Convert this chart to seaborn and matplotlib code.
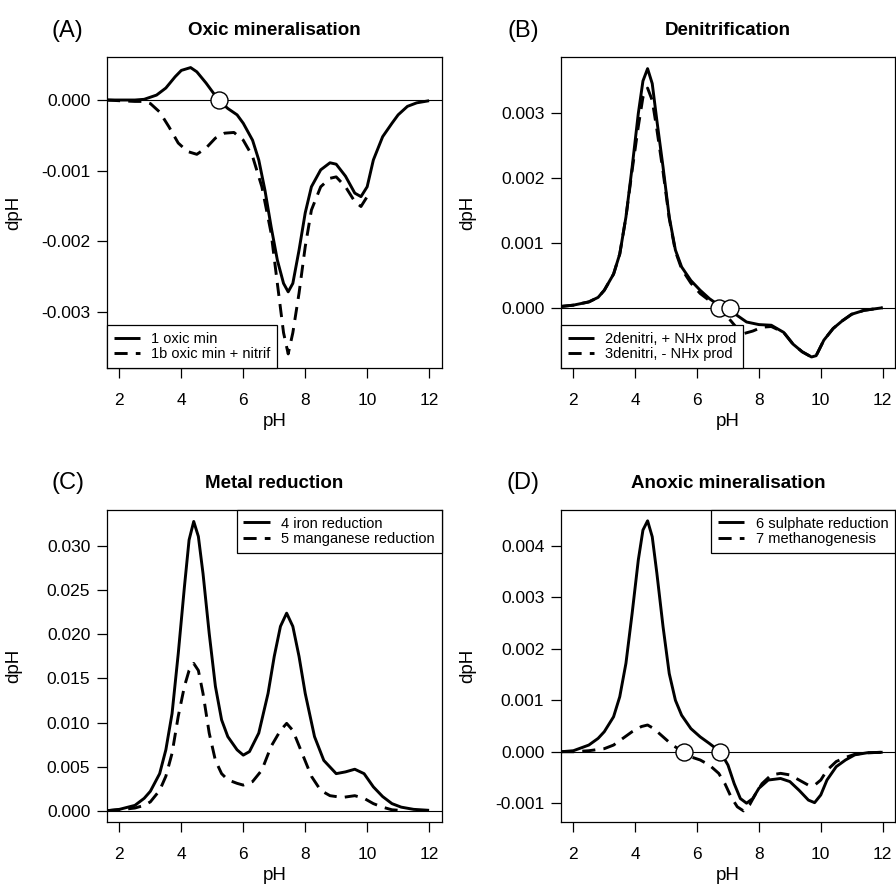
import numpy as np
import pandas as pd
import matplotlib
matplotlib.use("Agg")
import matplotlib.pyplot as plt
import seaborn as sns

# ---------------- data ----------------
# (A) Oxic mineralisation
phA1 = [1.6, 2.0, 2.5, 2.8, 3.2, 3.5, 3.8, 4.0, 4.3, 4.5, 4.8, 5.0, 5.2, 5.5, 5.8, 6.0, 6.3, 6.5, 6.7,
        6.9, 7.1, 7.3, 7.45, 7.6, 7.8, 8.0, 8.2, 8.5, 8.8, 9.0, 9.3, 9.6, 9.8, 10.0, 10.2, 10.5, 10.8,
        11.0, 11.3, 11.6, 12.0]
dA1 = [0.0, 0.0, 0.0, 0.00001, 0.00007, 0.00017, 0.00033, 0.00042, 0.00046, 0.0004, 0.00024, 0.00012,
       0.0, -0.00012, -0.00021, -0.00033, -0.00057, -0.00085, -0.00128, -0.0018, -0.00227, -0.0026,
       -0.00272, -0.0026, -0.00213, -0.0016, -0.00123, -0.00099, -0.00089, -0.00091, -0.00108, -0.00132,
       -0.00137, -0.00123, -0.00085, -0.00052, -0.00033, -0.00021, -0.00009, -0.00004, -0.00001]
phA1b = [1.6, 2.0, 2.5, 2.8, 3.0, 3.3, 3.6, 3.9, 4.2, 4.5, 4.8, 5.1, 5.4, 5.7, 6.0, 6.3, 6.6, 6.9, 7.1,
         7.3, 7.45, 7.6, 7.8, 8.0, 8.2, 8.5, 8.8, 9.0, 9.3, 9.6, 9.8, 10.0]
dA1b = [0.0, -0.00001, -0.00002, -0.00002, -0.00005, -0.00017, -0.00038, -0.00061, -0.00073, -0.00077,
        -0.00068, -0.00054, -0.00047, -0.00046, -0.00057, -0.0008, -0.00123, -0.00189, -0.0026, -0.0033,
        -0.0036, -0.0033, -0.00274, -0.00208, -0.00156, -0.00123, -0.00111, -0.00109, -0.00123, -0.00144,
        -0.00151, -0.00137]
crossA = [5.2]

# (B) Denitrification
phB2 = [1.6, 2.0, 2.5, 2.8, 3.0, 3.3, 3.5, 3.7, 3.9, 4.1, 4.25, 4.4, 4.55, 4.7, 4.9, 5.1, 5.3, 5.5, 5.8,
        6.1, 6.4, 6.7, 7.0, 7.3, 7.6, 8.0, 8.4, 8.8, 9.1, 9.4, 9.7, 9.85, 10.1, 10.4, 10.7, 11.0, 11.4, 12.0]
dB2 = [0.00002, 0.00004, 0.00009, 0.00016, 0.00027, 0.00052, 0.00083, 0.0014, 0.00217, 0.003, 0.0035,
       0.00369, 0.00346, 0.00289, 0.00217, 0.0014, 0.00089, 0.00063, 0.00042, 0.00027, 0.00014, 0.00004,
       0.0, -0.00012, -0.00022, -0.00026, -0.00027, -0.00038, -0.00056, -0.00068, -0.00076, -0.00074,
       -0.0005, -0.00032, -0.0002, -0.0001, -0.00004, 0.0]
phB3 = [1.6, 2.0, 2.5, 2.8, 3.0, 3.3, 3.5, 3.7, 3.9, 4.1, 4.25, 4.4, 4.55, 4.7, 4.9, 5.1, 5.3, 5.5, 5.8,
        6.1, 6.4, 6.7, 7.0, 7.3, 7.5, 7.8, 8.1, 8.4, 8.8, 9.1, 9.4, 9.7, 9.85, 10.1, 10.4, 10.7, 11.0,
        11.4, 12.0]
dB3 = [0.00002, 0.00004, 0.00009, 0.00016, 0.00027, 0.00052, 0.00083, 0.0014, 0.00212, 0.0028, 0.00325,
       0.00339, 0.0032, 0.00275, 0.0021, 0.00138, 0.00087, 0.0006, 0.00038, 0.00022, 0.00011, 0.0,
       -0.00015, -0.00032, -0.0004, -0.00036, -0.0003, -0.00029, -0.00038, -0.00056, -0.00068, -0.00076,
       -0.00074, -0.0005, -0.00032, -0.0002, -0.0001, -0.00004, 0.0]
crossB = [6.72, 7.05]

# (C) Metal reduction
phC4 = [1.6, 2.0, 2.5, 2.8, 3.0, 3.3, 3.5, 3.7, 3.9, 4.1, 4.25, 4.4, 4.55, 4.7, 4.9, 5.1, 5.3, 5.5, 5.8,
        6.0, 6.2, 6.5, 6.8, 7.0, 7.2, 7.4, 7.6, 7.8, 8.0, 8.3, 8.6, 9.0, 9.3, 9.6, 9.9, 10.2, 10.5, 10.8,
        11.1, 11.5, 12.0]
dC4 = [0.0, 0.00015, 0.0006, 0.0014, 0.0022, 0.0042, 0.0069, 0.011, 0.0178, 0.0254, 0.0307, 0.0328,
       0.0311, 0.0269, 0.0201, 0.0141, 0.0103, 0.0084, 0.0069, 0.0063, 0.0067, 0.0088, 0.0133, 0.0175,
       0.0209, 0.0224, 0.0209, 0.0175, 0.0133, 0.0084, 0.0057, 0.0042, 0.0044, 0.0047, 0.0042, 0.0027,
       0.0016, 0.0008, 0.0004, 0.00015, 0.00004]
phC5 = [1.6, 2.0, 2.5, 2.8, 3.0, 3.3, 3.5, 3.7, 3.9, 4.1, 4.25, 4.4, 4.55, 4.7, 4.9, 5.1, 5.3, 5.5, 5.8,
        6.0, 6.3, 6.6, 6.9, 7.2, 7.4, 7.6, 7.9, 8.2, 8.5, 8.8, 9.2, 9.6, 9.9, 10.2, 10.5, 10.8, 11.2]
dC5 = [0.0, 0.0001, 0.0003, 0.0006, 0.001, 0.0023, 0.0039, 0.0065, 0.0107, 0.0141, 0.0159, 0.0167,
       0.0159, 0.0133, 0.0088, 0.0057, 0.0042, 0.0035, 0.0031, 0.0029, 0.0033, 0.0046, 0.0073, 0.0091,
       0.0099, 0.0091, 0.0065, 0.0039, 0.0023, 0.0017, 0.0015, 0.0017, 0.0014, 0.0008, 0.0004, 0.0001, 0.0]

# (D) Anoxic mineralisation
phD6 = [1.6, 2.0, 2.5, 2.8, 3.0, 3.3, 3.5, 3.7, 3.9, 4.1, 4.25, 4.4, 4.55, 4.7, 4.9, 5.1, 5.3, 5.5, 5.8,
        6.1, 6.4, 6.75, 7.0, 7.2, 7.4, 7.6, 7.8, 8.0, 8.3, 8.7, 9.0, 9.3, 9.6, 9.8, 10.0, 10.2, 10.5,
        10.8, 11.1, 11.5, 12.0]
dD6 = [0.0, 0.00002, 0.00013, 0.00026, 0.00039, 0.00068, 0.00107, 0.00172, 0.00269, 0.00373, 0.00431,
       0.00449, 0.00418, 0.00347, 0.00243, 0.00152, 0.001, 0.00071, 0.00045, 0.00029, 0.00016, 0.0,
       -0.00026, -0.00062, -0.00091, -0.001, -0.00091, -0.00071, -0.00055, -0.00052, -0.00058, -0.00075,
       -0.00094, -0.00099, -0.00084, -0.00055, -0.00029, -0.00016, -0.00006, -0.00002, -0.00001]
phD7 = [1.6, 2.0, 2.5, 3.0, 3.3, 3.6, 3.9, 4.2, 4.4, 4.6, 4.9, 5.2, 5.55, 5.8, 6.1, 6.4, 6.7, 6.9, 7.1,
        7.3, 7.5, 7.7, 7.9, 8.1, 8.4, 8.7, 9.0, 9.3, 9.6, 9.8, 10.0, 10.2, 10.5, 10.8, 11.1, 11.5, 12.0]
dD7 = [0.0, 0.0, 0.00002, 0.00006, 0.00013, 0.00026, 0.00039, 0.00049, 0.00052, 0.00045, 0.00029,
       0.00013, 0.0, -0.0001, -0.00016, -0.00026, -0.00042, -0.00062, -0.00088, -0.00107, -0.00115,
       -0.00103, -0.00081, -0.00062, -0.00045, -0.00042, -0.00045, -0.00055, -0.00065, -0.00065,
       -0.00055, -0.00036, -0.00019, -0.00011, -0.00005, -0.00002, -0.00001]
crossD = [5.57, 6.74]

panel_letters = ["(A)", "(B)", "(C)", "(D)"]
panel_titles = ["Oxic mineralisation", "Denitrification", "Metal reduction", "Anoxic mineralisation"]
legend_labels = [["1 oxic min", "1b oxic min + nitrif"],
                 ["2denitri, + NHx prod", "3denitri, - NHx prod"],
                 ["4 iron reduction", "5 manganese reduction"],
                 ["6 sulphate reduction", "7 methanogenesis"]]
xticks = [2, 4, 6, 8, 10, 12]
yticksA = [-0.003, -0.002, -0.001, 0.000]
yticksB = [0.000, 0.001, 0.002, 0.003]
yticksC = [0.000, 0.005, 0.010, 0.015, 0.020, 0.025, 0.030]
yticksD = [-0.001, 0.000, 0.001, 0.002, 0.003, 0.004]

# ---------------- styling ----------------
sns.set_theme(style="ticks")
plt.rcParams['font.family'] = ['Liberation Sans', 'DejaVu Sans']
plt.rcParams['axes.unicode_minus'] = False
plt.rcParams['lines.solid_capstyle'] = 'butt'
for k in ['text.color', 'axes.labelcolor', 'xtick.color', 'ytick.color',
          'xtick.labelcolor', 'ytick.labelcolor', 'axes.edgecolor', 'axes.titlecolor']:
    plt.rcParams[k] = 'black'

W, H = 896, 889
fig = plt.figure(figsize=(W / 100, H / 100), dpi=100)
fig.patch.set_facecolor("white")


def px_axes(l, t, r, b):
    return fig.add_axes([l / W, 1 - b / H, (r - l) / W, (b - t) / H])


axes_px = [(107, 57, 441.5, 368), (561, 57, 895, 368),
           (107, 510, 441.5, 821.7), (561, 510, 895, 821.7)]
ylims = [(-0.0038, 0.00061), (-0.00093, 0.00387), (-0.00125, 0.0341), (-0.00136, 0.0047)]
yticks_all = [yticksA, yticksB, yticksC, yticksD]
series = [((phA1, dA1), (phA1b, dA1b)), ((phB2, dB2), (phB3, dB3)),
          ((phC4, dC4), (phC5, dC5)), ((phD6, dD6), (phD7, dD7))]
crosses = [crossA, crossB, None, crossD]
legend_locs = ["lower left", "lower left", "upper right", "upper right"]
letter_pos = [(67, 31), (523, 31), (68, 483), (523, 483)]

LW = 2.1
DASH = (0, (4.5, 2.8))

for i in range(4):
    ax = px_axes(*axes_px[i])
    (xs, ys), (xd, yd) = series[i]
    ax.axhline(0, color="black", lw=0.8, zorder=1)
    df_s = pd.DataFrame({"pH": xs, "dpH": ys})
    df_d = pd.DataFrame({"pH": xd, "dpH": yd})
    sns.lineplot(data=df_s, x="pH", y="dpH", ax=ax, color="black", lw=LW,
                 estimator=None, label=legend_labels[i][0], zorder=3)
    sns.lineplot(data=df_d, x="pH", y="dpH", ax=ax, color="black", lw=LW,
                 linestyle=DASH, estimator=None, label=legend_labels[i][1], zorder=3)
    if crosses[i] is not None:
        dfc = pd.DataFrame({"pH": crosses[i], "dpH": [0.0] * len(crosses[i])})
        sns.scatterplot(data=dfc, x="pH", y="dpH", ax=ax, s=150, color="white",
                        edgecolor="black", linewidth=1.0, zorder=5, legend=False)
    ax.set_xlim(1.6, 12.4)
    ax.set_ylim(*ylims[i])
    ax.set_xticks(xticks)
    ax.set_xticklabels([str(v) for v in xticks])
    ax.set_yticks(yticks_all[i])
    ax.set_yticklabels([f"{v:.3f}" for v in yticks_all[i]])
    ax.tick_params(axis="x", length=7, width=0.9, pad=11, labelsize=12.5, color="black")
    ax.tick_params(axis="y", length=7, width=0.9, pad=5, labelsize=12.5, color="black")
    for sp in ax.spines.values():
        sp.set_visible(True)
        sp.set_color("black")
        sp.set_linewidth(0.9)
    ax.set_xlabel("pH", fontsize=13.5)
    ax.set_ylabel("dpH", fontsize=13.5)
    axw = axes_px[i][2] - axes_px[i][0]
    axh = axes_px[i][3] - axes_px[i][1]
    ax.xaxis.set_label_coords(0.5, -45 / axh)
    ax.yaxis.set_label_coords(-85 / axw, 0.5)
    ax.set_title(panel_titles[i], fontsize=13.5, fontweight="bold", pad=16)
    leg = ax.legend(loc=legend_locs[i], borderaxespad=0, fontsize=10.5, frameon=True,
                    fancybox=False, edgecolor="black", handlelength=1.8, handletextpad=0.8,
                    labelspacing=0.1, borderpad=0.45, framealpha=1)
    leg.get_frame().set_linewidth(0.9)
    leg.set_zorder(4)
    lx, ly = letter_pos[i]
    fig.text(lx / W, 1 - ly / H, panel_letters[i], fontsize=17, ha="center", va="center")

fig.savefig("out.png", dpi=100, facecolor="white")
